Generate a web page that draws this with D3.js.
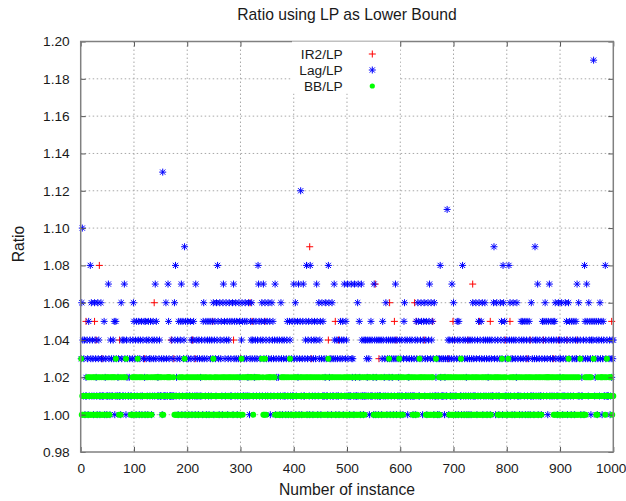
<!DOCTYPE html>
<html>
<head>
<meta charset="utf-8">
<script src="https://cdn.jsdelivr.net/npm/d3@7"></script>
<style>
body { margin: 0; background: #fff; }
text { font-family: "Liberation Sans", Arial, sans-serif; fill: #1a1a1a; }
</style>
</head>
<body>
<svg id="chart"></svg>
<script>
var chartTitle = "Ratio using LP as Lower Bound";
var xLabel = "Number of instance";
var yLabel = "Ratio";
var seriesNames = ["IR2/LP", "Lag/LP", "BB/LP"];
var xTicks = [0, 100, 200, 300, 400, 500, 600, 700, 800, 900, 1000];
var yTicks = [0.98, 1.00, 1.02, 1.04, 1.06, 1.08, 1.10, 1.12, 1.14, 1.16, 1.18, 1.20];

// one character per instance (1..1000), ratio = 1 + value/100, base 36 (a = 1.10 ... j = 1.19)
var lagRows = [
    "36a4134012 1430514836 1430164321 0634101631 1315023101 1731041311 4350153112 3111063411 4731042311 2341103465",
    "1340513450 3415014352 0534105431 5304153417 3541213411 130d131116 3117531111 4131164812 3405134570 1534905131",
    "5301153401 4531071431 0431214305 6341503451 0453145360 4531648530 6435106745 3164503465 1315607351 6350136521",
    "3465113561 3512610354 6341523451 3487513456 1473561435 1634501364 5314703241 2340163401 3411034510 3541035117",
    "3560135270 35c1035711 3458034510 8345103451 3475016345 0361513126 3110862313 0613174301 4311043514 3504713541",
    "7311011732 3107121116 7152017411 0411413241 3041514120 7410241104 1114035412 3164031423 0413240314 7304132140",
    "3141035641 1340123411 3410131405 3465113465 3045613450 3645713645 1306112310 3103821311 3102311b34 0341137416",
    "3410135405 3411038410 3412034103 4103461314 1630415634 1536041364 1304213401 3411693401 6341013645 3086451314",
    "0318461340 3641034261 3140135405 3415034510 3540161341 0394134701 3411035415 3645130547 1354135415 6341016342",
    "3461031416 3540163541 0534150345 3741613401 2134085347 5316453045 34j5123540 3541635403 5411831411 1340132434"
];
var bbRows = [
    "3010110101 1020120102 1012012010 2101210120 1021012102 0120112121 1212131121 1021012111 2112311111 1110102012",
    "0121023012 1021012101 0120120101 2101211121 1212121121 1201012111 1212121211 1112101010 1010210120 1201310210",
    "2101201021 1021012010 2101201210 1021021010 2101201031 2012010201 1021012012 0102101201 2101201021 1021012010",
    "1320112111 2121121212 1210121212 1121121113 1201031021 1121212111 2112011010 1010102012 1021012010 2130120101",
    "2012012010 1201201021 0120120102 1021012010 2101201021 1012012010 2101320102 1021012010 2101201021 1012012010",
    "2102101201 0120120102 1021012010 2101211211 2121111210 2012012010 1201201021 0120121031 2012012010 1201201302",
    "1021012111 1121212111 2101201021 1012131212 1112112010 2101201021 2010103101 1020121121 1212111211 2012012010",
    "1201201021 0123012010 2101201021 1012012010 2102101201 0120120102 1021012010 2111121121 1201201021 3102101201",
    "0130120102 1021012010 2101201021 1012012010 2102101201 0120120102 1021012111 2112121212 1112112010 2101201021",
    "1012012010 2101230120 1021012010 2101201310 1010102012 1121121211 1131111010 2111121212 1112012311 1212121011"
];
// IR2/LP: only the points that show from under the other two series
var ir2Instance = [10, 26, 29, 35, 40, 73, 120, 138, 170, 175, 210, 215, 248, 287, 300, 318, 322, 346, 430, 433,
    465, 478, 484, 553, 560, 580, 589, 592, 627, 630, 645, 661, 690, 699, 702, 727, 736, 749, 769, 797,
    806, 838, 844, 869, 888, 897, 913, 932, 997];
var ir2Ratio = [1.05, 1.05, 1.04, 1.08, 1.03, 1.04, 1.03, 1.06, 1.04, 1.03, 1.04, 1.03, 1.05, 1.04, 1.03, 1.06, 1.05, 1.05, 1.09, 1.03,
    1.04, 1.05, 1.04, 1.07, 1.03, 1.06, 1.05, 1.04, 1.06, 1.05, 1.04, 1.05, 1.03, 1.05, 1.04, 1.04, 1.07, 1.05, 1.05, 1.04,
    1.05, 1.03, 1.04, 1.04, 1.03, 1.04, 1.04, 1.04, 1.05];

function decode(rows) {
    return rows.join("").replace(/\s/g, "").split("").map(function (c, i) {
        return {x: i + 1, y: 1 + parseInt(c, 36) / 100};
    });
}
var lagData = decode(lagRows);
var bbData = decode(bbRows);
var ir2Data = ir2Instance.map(function (d, i) {
    return {x: d, y: ir2Ratio[i]};
});

var svgWidth = 626, svgHeight = 501;
var margin = {top: 41.5, right: 12.7, bottom: 49, left: 80.7};
var width = svgWidth - margin.left - margin.right;
var height = svgHeight - margin.top - margin.bottom;

var svg = d3.select("#chart")
    .attr("width", svgWidth)
    .attr("height", svgHeight);

var g = svg.append("g")
    .attr("transform", "translate(" + margin.left + "," + margin.top + ")");

var x = d3.scaleLinear().domain([0, 1000]).range([0, width]);
var y = d3.scaleLinear().domain([0.98, 1.20]).range([height, 0]);

// dotted grid
g.append("g").selectAll("line")
    .data(xTicks.slice(1, -1))
    .enter().append("line")
    .attr("x1", function (d) { return x(d); })
    .attr("x2", function (d) { return x(d); })
    .attr("y1", 0)
    .attr("y2", height)
    .attr("stroke", "#a8a8a8")
    .attr("stroke-dasharray", "1.5,2.5");

g.append("g").selectAll("line")
    .data(yTicks.slice(1, -1))
    .enter().append("line")
    .attr("x1", 0)
    .attr("x2", width)
    .attr("y1", function (d) { return y(d); })
    .attr("y2", function (d) { return y(d); })
    .attr("stroke", "#a8a8a8")
    .attr("stroke-dasharray", "1.5,2.5");

var plusPath = "M-3.5,0H3.5M0,-3.5V3.5";
var starPath = "M-3.5,0H3.5M0,-3.5V3.5M-2.6,-2.6L2.6,2.6M-2.6,2.6L2.6,-2.6";

g.append("g").selectAll("path")
    .data(ir2Data)
    .enter().append("path")
    .attr("d", plusPath)
    .attr("transform", function (d) { return "translate(" + x(d.x) + "," + y(d.y) + ")"; })
    .attr("fill", "none")
    .attr("stroke", "#ff0000")
    .attr("stroke-width", 1);

g.append("g").selectAll("path")
    .data(lagData)
    .enter().append("path")
    .attr("d", starPath)
    .attr("transform", function (d) { return "translate(" + x(d.x) + "," + y(d.y) + ")"; })
    .attr("fill", "none")
    .attr("stroke", "#0000ff")
    .attr("stroke-width", 1);

g.append("g").selectAll("circle")
    .data(bbData)
    .enter().append("circle")
    .attr("cx", function (d) { return x(d.x); })
    .attr("cy", function (d) { return y(d.y); })
    .attr("r", 3)
    .attr("fill", "#00ff00");

// key (opaque box, no border)
var key = svg.append("g");
key.append("rect")
    .attr("x", 292)
    .attr("y", margin.top)
    .attr("width", 108)
    .attr("height", 52)
    .attr("fill", "#fff");
var keyRows = key.selectAll("g.row")
    .data(seriesNames)
    .enter().append("g")
    .attr("class", "row")
    .attr("transform", function (d, i) { return "translate(0," + (54 + i * 16) + ")"; });
keyRows.append("text")
    .attr("x", 342.7)
    .attr("dy", "0.36em")
    .attr("text-anchor", "end")
    .style("font-size", "13.7px")
    .text(function (d) { return d; });
keyRows.filter(function (d, i) { return i === 0; }).append("path")
    .attr("d", plusPath).attr("transform", "translate(372.3,0)")
    .attr("stroke", "#ff0000").attr("fill", "none");
keyRows.filter(function (d, i) { return i === 1; }).append("path")
    .attr("d", starPath).attr("transform", "translate(372.3,0)")
    .attr("stroke", "#0000ff").attr("fill", "none");
keyRows.filter(function (d, i) { return i === 2; }).append("circle")
    .attr("cx", 372.3).attr("r", 2.6)
    .attr("fill", "#00ff00");

// axes with inward ticks, mirrored on top and right
function styleAxis(sel) {
    sel.select(".domain").remove();
    sel.selectAll(".tick line").attr("stroke", "#555");
    sel.selectAll(".tick text").style("font-size", "13.7px").attr("fill", "#1a1a1a");
}

g.append("g")
    .call(d3.axisLeft(y).tickValues(yTicks).tickFormat(d3.format(".2f")).tickSizeInner(-5).tickSizeOuter(0).tickPadding(11))
    .call(styleAxis);

var xAxisG = g.append("g")
    .attr("transform", "translate(0," + height + ")")
    .call(d3.axisBottom(x).tickValues(xTicks).tickFormat(d3.format("d")).tickSizeInner(-5).tickSizeOuter(0).tickPadding(11))
    .call(styleAxis);
// keep the last label inside the window edge
xAxisG.selectAll(".tick text").filter(function (d) { return d === 1000; }).attr("dx", "-2.6");

g.append("g")
    .attr("transform", "translate(" + width + ",0)")
    .call(d3.axisRight(y).tickValues(yTicks).tickFormat("").tickSizeInner(-5).tickSizeOuter(0))
    .call(styleAxis);

g.append("g")
    .call(d3.axisTop(x).tickValues(xTicks).tickFormat("").tickSizeInner(-5).tickSizeOuter(0))
    .call(styleAxis);

g.append("rect")
    .attr("width", width)
    .attr("height", height)
    .attr("fill", "none")
    .attr("stroke", "#808080")
    .attr("stroke-width", 1.5);

svg.append("text")
    .attr("x", margin.left + width / 2)
    .attr("y", 20)
    .attr("text-anchor", "middle")
    .style("font-size", "15.7px")
    .text(chartTitle);

svg.append("text")
    .attr("x", margin.left + width / 2)
    .attr("y", 495)
    .attr("text-anchor", "middle")
    .style("font-size", "15.7px")
    .text(xLabel);

svg.append("text")
    .attr("transform", "translate(23.5,244) rotate(-90)")
    .attr("text-anchor", "middle")
    .style("font-size", "15.7px")
    .text(yLabel);
</script>
</body>
</html>
